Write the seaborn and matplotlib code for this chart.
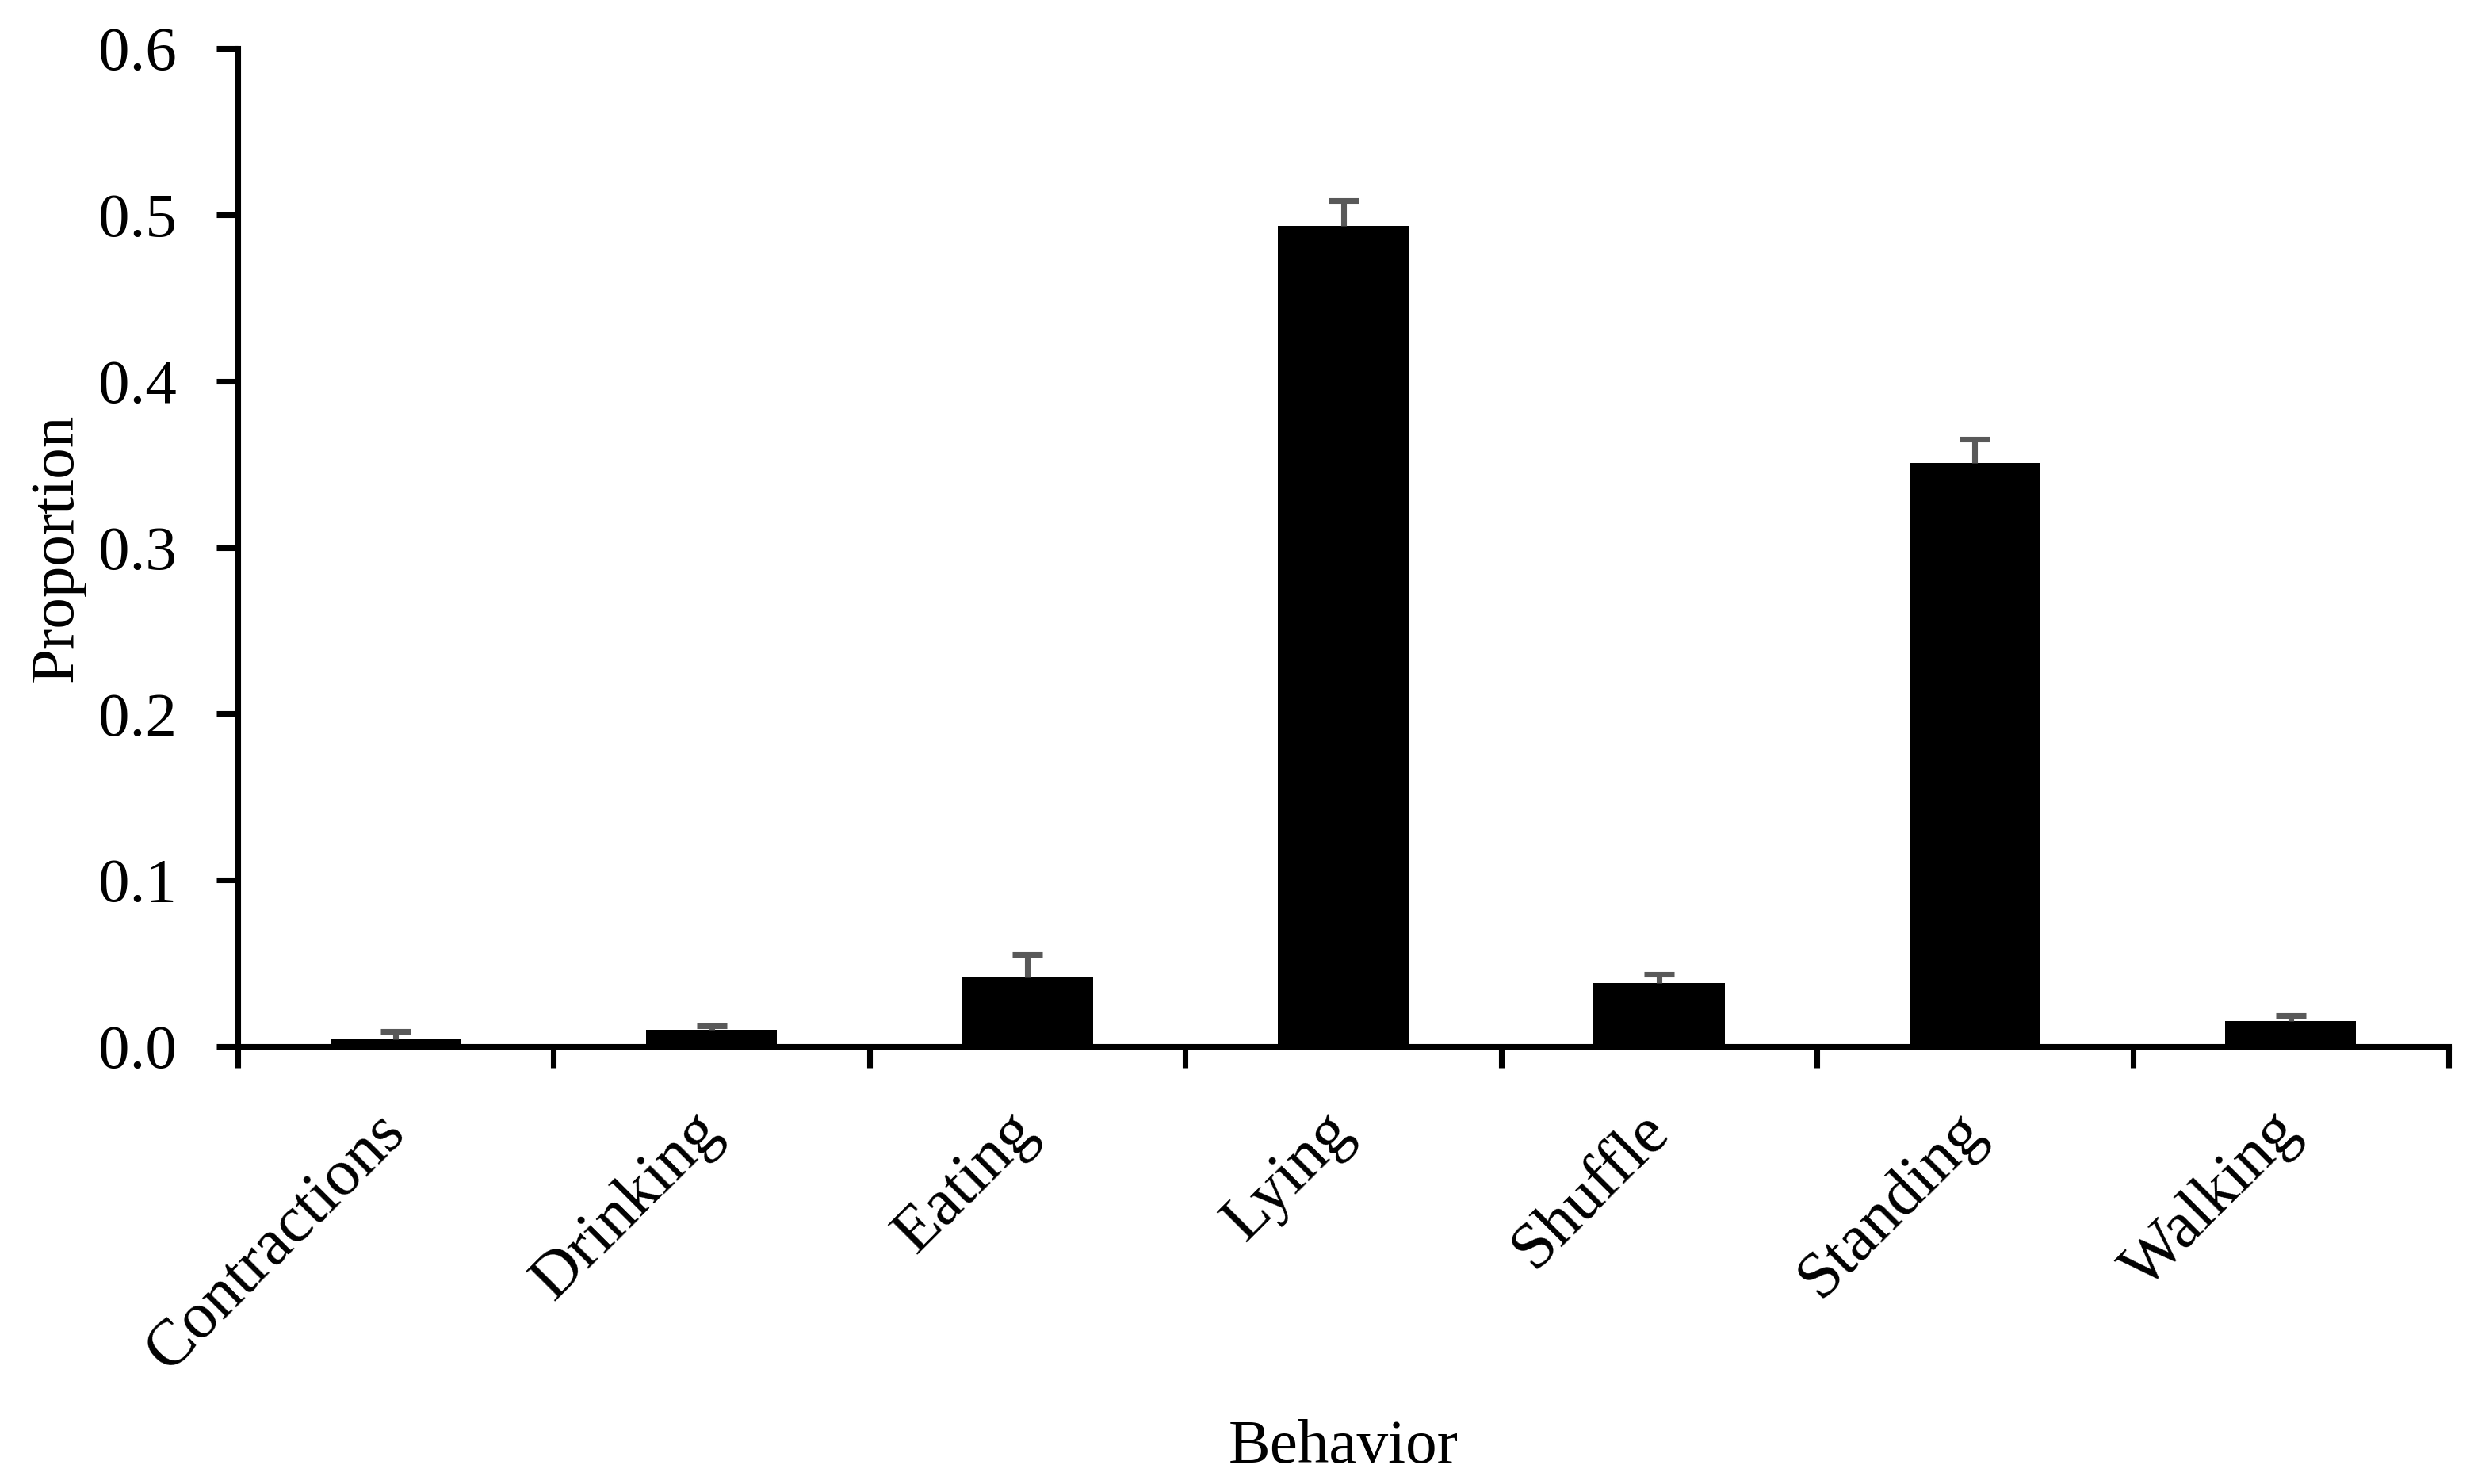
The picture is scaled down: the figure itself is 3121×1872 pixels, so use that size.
import matplotlib
matplotlib.use("Agg")
import matplotlib.pyplot as plt
import seaborn as sns
import numpy as np
import pandas as pd

behaviors = ["Contractions", "Drinking", "Eating", "Lying", "Shuffle", "Standing", "Walking"]
proportion = [0.0044, 0.0099, 0.0413, 0.4932, 0.0380, 0.3508, 0.0152]
upper_err = [0.0048, 0.0026, 0.0138, 0.0152, 0.0055, 0.0142, 0.0032]

df = pd.DataFrame({"Behavior": behaviors, "Proportion": proportion})

sns.set_style("white")
plt.rcParams["font.family"] = ["Liberation Serif", "DejaVu Serif"]

W, H, DPI = 3121, 1872, 300
fig = plt.figure(figsize=(W / DPI, H / DPI), dpi=DPI)
left, right, top, bottom = 300, 3089, 61, 1320
ax = fig.add_axes([left / W, 1 - bottom / H, (right - left) / W, (bottom - top) / H])

sns.barplot(data=df, x="Behavior", y="Proportion", color="black",
            width=0.415, saturation=1, errorbar=None, ax=ax)
for p in ax.patches:
    p.set_edgecolor("none")

# upper-only error bars (hide the cap sitting on the bar top)
xs = np.arange(len(behaviors))
eb = ax.errorbar(xs, proportion, yerr=[np.zeros(len(behaviors)), upper_err],
                 fmt="none", ecolor="#595959", elinewidth=1.7, capsize=4.6,
                 capthick=1.7, zorder=3)
eb[1][0].set_visible(False)

ax.set_xlim(-0.5, len(behaviors) - 0.5)
ax.set_ylim(0, 0.6)
ax.set_yticks(np.arange(0, 0.61, 0.1))
ax.set_yticklabels([f"{v:.1f}" for v in np.arange(0, 0.61, 0.1)])

# category boundaries get the tick marks, centres get the labels
ax.set_xticks(np.arange(-0.5, len(behaviors)), minor=True)
ax.set_xticks(xs)
ax.set_xticklabels(behaviors, rotation=45, ha="right", va="center",
                   rotation_mode="anchor")

lw = 1.7
for s in ["top", "right"]:
    ax.spines[s].set_visible(False)
for s in ["left", "bottom"]:
    ax.spines[s].set_linewidth(lw)
    ax.spines[s].set_color("black")

ax.tick_params(axis="y", which="major", direction="out", length=6.5, width=lw,
               pad=12, labelsize=19, colors="black", left=True)
ax.tick_params(axis="x", which="major", length=0, pad=23, labelsize=20,
               colors="black")
ax.tick_params(axis="x", which="minor", direction="out", length=6.5, width=lw,
               colors="black", bottom=True)

ax.set_xlabel("Behavior", fontsize=19, color="black")
ax.set_ylabel("Proportion", fontsize=19, color="black")
ax.xaxis.set_label_coords(0.5, (bottom - 1790) / (bottom - top))
ax.yaxis.set_label_coords((108 - left) / (right - left), 0.5)

fig.savefig("out.png", dpi=DPI)
